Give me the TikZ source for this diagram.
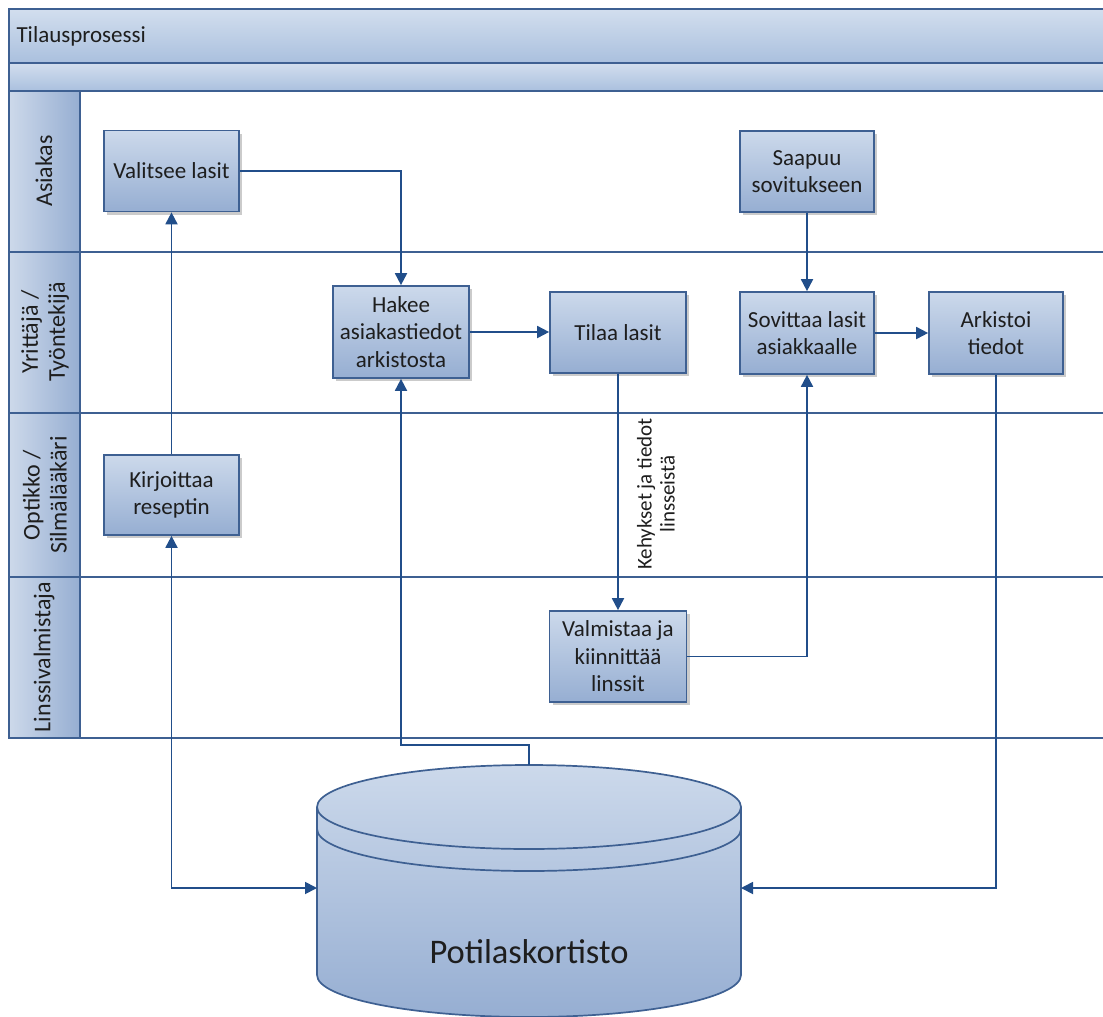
\documentclass[tikz,border=0pt]{standalone}
\usepackage{fontspec}
\setmainfont{Carlito}
\usetikzlibrary{arrows.meta,shadows,calc}

\definecolor{frameblue}{RGB}{62,96,146}
\definecolor{connblue}{RGB}{33,78,138}
\definecolor{boxtop}{RGB}{204,217,235}
\definecolor{boxbot}{RGB}{150,174,210}
\definecolor{bandtop}{RGB}{210,222,238}
\definecolor{bandbot}{RGB}{170,192,222}
\definecolor{lanelight}{RGB}{205,217,234}
\definecolor{lanedark}{RGB}{150,174,210}
\definecolor{txt}{RGB}{30,30,30}

\tikzset{
  x=1pt, y=-1pt,
  frame/.style={draw=frameblue, line width=1.7pt},
  band/.style={frame, top color=bandtop, bottom color=bandbot},
  lanehead/.style={frame, left color=lanelight, right color=lanedark},
  lanetext/.style={rotate=90, align=center, text=txt,
    font=\fontsize{24}{27}\selectfont},
  task/.style={draw=frameblue, line width=1.7pt, top color=boxtop, bottom color=boxbot,
    align=center, text=txt, inner sep=2pt,
    font=\fontsize{23}{27.5}\selectfont,
    drop shadow={shadow xshift=3pt, shadow yshift=-3pt, fill=black!45, opacity=0.45}},
  conn/.style={draw=connblue, line width=1.8pt,
    -{Triangle[length=12pt, width=12pt]}},
  biconn/.style={draw=connblue, line width=1.8pt,
    {Triangle[length=12pt, width=12pt]}-{Triangle[length=12pt, width=12pt]}},
  flowlabel/.style={rotate=90, align=center, text=txt,
    font=\fontsize{21}{23}\selectfont},
}

\begin{document}
\begin{tikzpicture}
\useasboundingbox (0,0) rectangle (1103,1017);
\clip (0,0) rectangle (1103,1017);
\fill[white] (0,0) rectangle (1103,1017);

% pool header bands
\path[band] (9,9) rectangle (1112,63);
\path[band] (9,63) rectangle (1112,91);
\node[anchor=west, text=txt, font=\fontsize{23}{26}\selectfont] (pooltitle) at (13,36) {Tilausprosessi};

% lane headers
\path[lanehead] (9,91) rectangle (80,252);
\path[lanehead] (9,252) rectangle (80,413);
\path[lanehead] (9,413) rectangle (80,577);
\path[lanehead] (9,577) rectangle (80,738);
\node[lanetext] (lane1) at (44,171) {Asiakas};
\node[lanetext] (lane2) at (45,332) {Yrittäjä /\\Työntekijä};
\node[lanetext] (lane3) at (45,495) {Optikko /\\Silmälääkäri};
\node[lanetext] (lane4) at (44,657) {Linssivalmistaja};

% lane separators
\foreach \yy in {252,413,577,738}
  \draw[frame] (80,\yy) -- (1112,\yy);

% tasks
\node[task, minimum width=135pt, minimum height=81pt] (valitsee) at (171.5,171) {Valitsee lasit};
\node[task, minimum width=136pt, minimum height=92pt] (hakee) at (401,332) {Hakee\\asiakastiedot\\arkistosta};
\node[task, minimum width=136pt, minimum height=81pt] (tilaa) at (618,332.5) {Tilaa lasit};
\node[task, minimum width=135pt, minimum height=80pt] (kirjoittaa) at (171.5,495) {Kirjoittaa\\reseptin};
\node[task, minimum width=137pt, minimum height=91pt] (valmistaa) at (618,656.5) {Valmistaa ja\\kiinnittää\\linssit};
\node[task, minimum width=134pt, minimum height=81pt] (saapuu) at (807,171.5) {Saapuu\\sovitukseen};
\node[task, minimum width=134pt, minimum height=82pt] (sovittaa) at (807,333) {Sovittaa lasit\\asiakkaalle};
\node[task, minimum width=134pt, minimum height=82pt] (arkistoi) at (996,333) {Arkistoi\\tiedot};

% patient records store (cylinder)
\path[draw=frameblue, line width=1.7pt, top color=boxtop, bottom color=boxbot]
  (317,807) -- (317,975)
  arc[start angle=180, end angle=360, x radius=212pt, y radius=42pt]
  -- (741,807)
  arc[start angle=0, end angle=180, x radius=212pt, y radius=42pt] -- cycle;
\draw[frameblue, line width=1.7pt] (317,807) arc[start angle=180, end angle=360, x radius=212pt, y radius=42pt];
\draw[frameblue, line width=1.7pt] (317,829) arc[start angle=180, end angle=360, x radius=212pt, y radius=42pt];
\node[text=txt, font=\fontsize{34.5}{40}\selectfont] (db) at (529,952) {Potilaskortisto};
\coordinate (dbL) at (317,888);
\coordinate (dbR) at (741,888);
\coordinate (dbT) at (529,765);

% flows
\draw[conn] (valitsee.east) -| (hakee.north);
\draw[conn] (hakee.east) -- (tilaa.west |- hakee.east);
\draw[conn] (tilaa.south) -- (valmistaa.north);
\node[flowlabel] (lbl) at (656,494) {Kehykset ja tiedot\\linsseistä};
\draw[conn] (valmistaa.east) -| (sovittaa.south);
\draw[conn] (saapuu.south) -- (sovittaa.north);
\draw[conn] (sovittaa.east) -- (arkistoi.west);
\draw[conn] (kirjoittaa.north) -- (valitsee.south);
\draw[biconn] (kirjoittaa.south) |- (dbL);
\draw[conn] (arkistoi.south) |- (dbR);
\draw[conn] (dbT) -- ++(0,-20) -| (hakee.south);
\end{tikzpicture}
\end{document}
